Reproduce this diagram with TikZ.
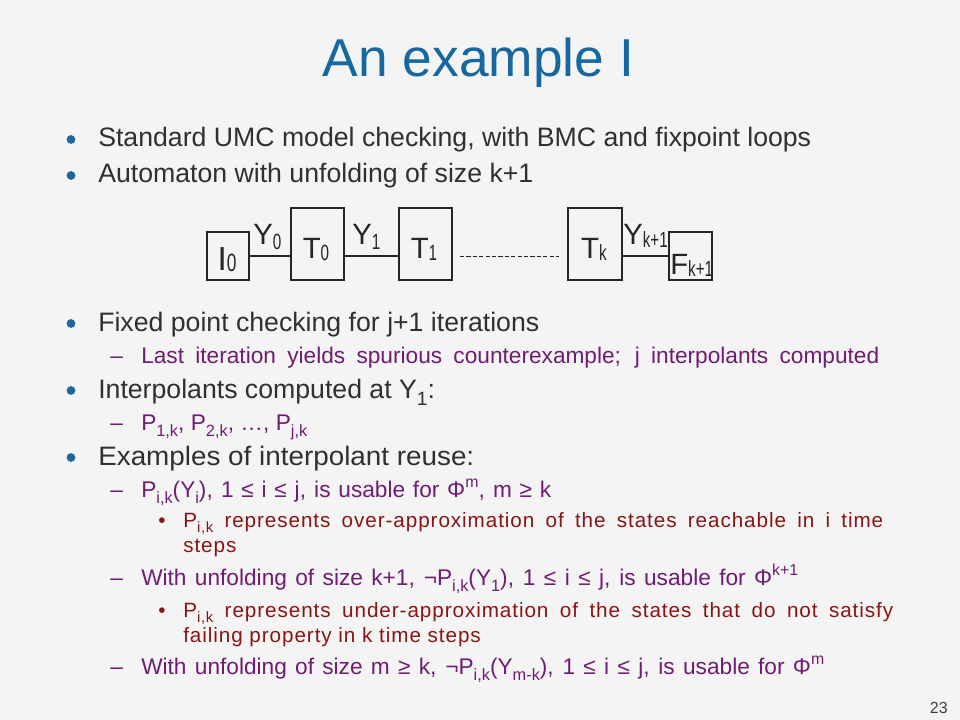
\documentclass[tikz,border=0pt]{standalone}
\usepackage{fontspec}
\setmainfont{Liberation Sans}
\newfontfamily\subsubfont[LetterSpace=4.5]{Liberation Sans}
\usepackage{graphicx}
\newdimen\px \px=0.75pt
\newlength\natw
\definecolor{bgc}{HTML}{F4F4F4}
\definecolor{titlec}{HTML}{1767A0}
\definecolor{bulc}{HTML}{1A689E}
\definecolor{maintext}{HTML}{303030}
\definecolor{purp}{HTML}{701C72}
\definecolor{dred}{HTML}{8A1414}
\newcommand\sbs[1]{\raisebox{-0.27em}{\scalebox{0.72}{#1}}}
\newcommand\sps[1]{\raisebox{0.42em}{\scalebox{0.7}{#1}}}
\newcommand\dsb[2]{\raisebox{#1}{\scalebox{0.52}[0.75]{#2}}}
\newcommand\fitto[2]{\settowidth\natw{#2}\ifdim\natw>#1\relax\resizebox{#1}{\height}{#2}\else\makebox[#1][s]{#2}\fi}
\newcommand\bodyline[6]{\node[#5, anchor=base west] (#1) at (#2,#3) {\fitto{#4\px}{#6}};}
\newcommand\stretchline[6]{\node[#5, anchor=base west] (#1) at (#2,#3) {\resizebox{#4\px}{\height}{#6}};}
\newcommand\freeline[5]{\node[#4, anchor=base west] (#1) at (#2,#3) {#5};}
\begin{document}
\begin{tikzpicture}[x=0.75pt,y=-0.75pt,
  mainline/.style={font=\fontsize{20pt}{24pt}\selectfont, text=maintext, inner sep=0pt},
  subline/.style={font=\fontsize{17pt}{20pt}\selectfont, text=purp, inner sep=0pt},
  subsubline/.style={font=\subsubfont\fontsize{15.5pt}{18pt}\selectfont, text=dred, inner sep=0pt},
  blk/.style={draw=black!85, line width=0.8pt, inner sep=0pt},
  lbl/.style={font=\fontsize{22pt}{26pt}\selectfont, text=black!85, inner sep=0pt},
  wire/.style={draw=black!85, line width=0.8pt}]
\path[fill=bgc] (0,0) rectangle (960,720);
\useasboundingbox (0,0) rectangle (960,720);
% title
\node[font=\fontsize{40pt}{48pt}\selectfont, text=titlec, inner sep=0pt, anchor=base] (title) at (478.5,77) {An example I};
% bullets
\foreach \yy in {147,183,331,398,465}{
  \fill[bulc] (71,\yy-7.5) circle (3.3pt);
}
\freeline{l1}{98}{147}{mainline}{Standard UMC model checking, with BMC and fixpoint loops}
\freeline{l2}{98}{183}{mainline}{Automaton with unfolding of size k+1}
\freeline{l3}{98}{331}{mainline}{Fixed point checking for j+1 iterations}
\node[subline, anchor=base west] (d4) at (110,363) {–};
\bodyline{l4}{141}{363}{738}{subline}{Last iteration yields spurious counterexample; j interpolants computed}
\freeline{l5}{98}{398}{mainline}{Interpolants computed at Y\sbs{1}:}
\node[subline, anchor=base west] (d6) at (110,430) {–};
\bodyline{l6}{141}{430}{166}{subline}{P\sbs{1,k}, P\sbs{2,k}, …, P\sbs{j,k}}
\stretchline{l7}{98}{465}{376}{mainline}{Examples of interpolant reuse:}
\node[subline, anchor=base west] (d8) at (110,497) {–};
\bodyline{l8}{141}{497}{410}{subline}{P\sbs{i,k}(Y\sbs{i}), 1 ≤ i ≤ j, is usable for Φ\sps{m}, m ≥ k}
\node[subsubline, anchor=base west] (d9) at (158,527) {•};
\bodyline{l9}{183}{527}{700}{subsubline}{P\sbs{i,k} represents over-approximation of the states reachable in i time}
\freeline{l10}{183}{552}{subsubline}{steps}
\node[subline, anchor=base west] (d11) at (110,585) {–};
\bodyline{l11}{141}{585}{657}{subline}{With unfolding of size k+1, ¬P\sbs{i,k}(Y\sbs{1}), 1 ≤ i ≤ j, is usable for Φ\sps{k+1}}
\node[subsubline, anchor=base west] (d12) at (158,617) {•};
\bodyline{l12}{183}{617}{710}{subsubline}{P\sbs{i,k} represents under-approximation of the states that do not satisfy}
\freeline{l13}{183}{642}{subsubline}{failing property in k time steps}
\node[subline, anchor=base west] (d14) at (110,674) {–};
\bodyline{l14}{141}{674}{683}{subline}{With unfolding of size m ≥ k, ¬P\sbs{i,k}(Y\sbs{m-k}), 1 ≤ i ≤ j, is usable for Φ\sps{m}}
% page number
\node[font=\fontsize{12pt}{14pt}\selectfont, text=black!75, inner sep=0pt, anchor=base east] (pg) at (948,713) {23};
% diagram
\node[blk, minimum width=31.5pt, minimum height=36pt] (i0) at (228,256) {};
\node[blk, minimum width=39.75pt, minimum height=54pt] (t0) at (317.5,244) {};
\node[blk, minimum width=39.75pt, minimum height=54pt] (t1) at (425.5,244) {};
\node[blk, minimum width=40.5pt, minimum height=54pt] (tk) at (595,244) {};
\node[blk, minimum width=32.25pt, minimum height=36pt] (fk) at (690.5,256) {};
\draw[wire] (i0.east) -- (i0.east -| t0.west);
\draw[wire] (i0.east -| t0.east) -- (i0.east -| t1.west);
\draw[wire] (fk.west -| tk.east) -- (fk.west);
\coordinate (da) at (460,256);
\coordinate (db) at (559,256);
\draw[wire, line width=0.7pt, dash pattern=on 3.2pt off 1.6pt] (da) -- (db);
\node[lbl, font=\fontsize{25pt}{28pt}\selectfont, anchor=base] (li0) at (227,271) {I\dsb{-0.4pt}{0}};
\node[lbl, anchor=base] (lt0) at (316,259) {T\dsb{-1pt}{0}};
\node[lbl, anchor=base] (lt1) at (424,259) {T\dsb{-1pt}{1}};
\node[lbl, anchor=base] (ltk) at (594,259) {T\dsb{-1pt}{k}};
\node[lbl, anchor=base west] (lfk) at (670,275) {F\dsb{-1.2pt}{k+1}};
\node[lbl, anchor=base west] (ly0) at (253,245) {Y\dsb{-3.7pt}{0}};
\node[lbl, anchor=base west] (ly1) at (352,245) {Y\dsb{-3.7pt}{1}};
\node[lbl, anchor=base west] (lyk) at (623,245) {Y\dsb{-2.2pt}{k+1}};
\end{tikzpicture}
\end{document}
